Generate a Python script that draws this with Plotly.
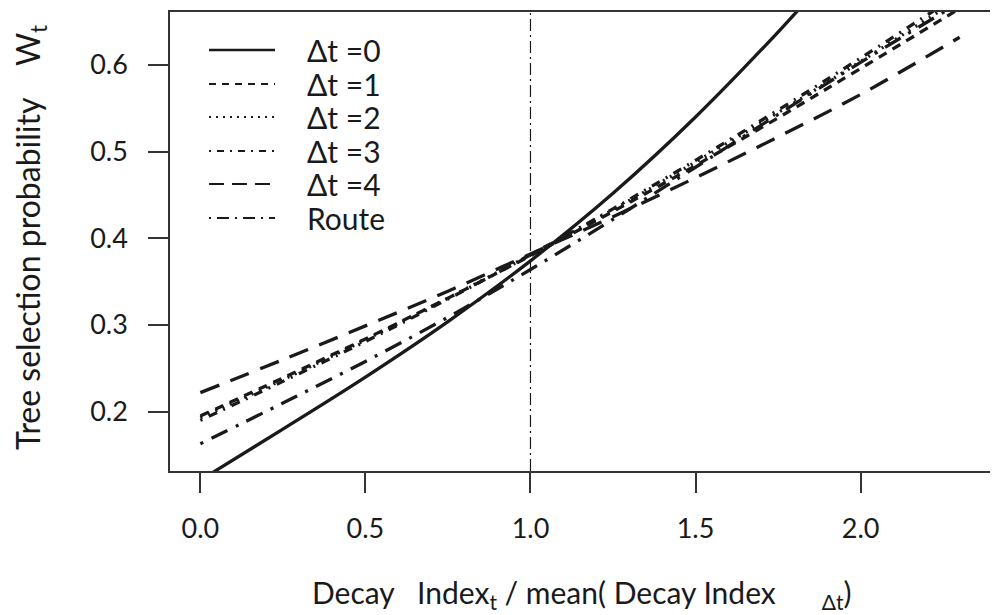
import plotly.graph_objects as go

# ---- data ----
x_solid = [0.0, 0.25, 0.5, 0.75, 1.0, 1.25, 1.5, 1.75, 1.85]
dt0 = [0.121, 0.180, 0.240, 0.304, 0.374, 0.452, 0.540, 0.638, 0.680]

x_vals = [0.0, 0.25, 0.5, 0.75, 1.0, 1.25, 1.5, 1.75, 2.0, 2.3]
dt1 = [0.195, 0.239, 0.284, 0.331, 0.380, 0.431, 0.484, 0.539, 0.596, 0.665]
dt2 = [0.193, 0.237, 0.283, 0.331, 0.381, 0.433, 0.488, 0.545, 0.604, 0.677]
dt3 = [0.190, 0.235, 0.281, 0.330, 0.381, 0.434, 0.490, 0.548, 0.608, 0.682]
dt4 = [0.222, 0.260, 0.299, 0.339, 0.382, 0.425, 0.470, 0.517, 0.566, 0.632]
route = [0.163, 0.210, 0.258, 0.309, 0.364, 0.422, 0.482, 0.543, 0.603, 0.672]

names = ["\u0394t =0", "\u0394t =1", "\u0394t =2", "\u0394t =3", "\u0394t =4", "Route"]
x_tick_vals = [0.0, 0.5, 1.0, 1.5, 2.0]
y_tick_vals = [0.2, 0.3, 0.4, 0.5, 0.6]
vline_x = 1.0
x_range = [-0.092, 2.392]
y_range = [0.1316, 0.6611]

FONT = "Lato"
INK = "#1a1a1a"
# the page body has an 8px margin, so the figure is drawn from (8, 8)
OFF = 8
W, H = 998 - OFF, 615 - OFF
ML, MR, MT, MB = 170 - OFF, 8, 12 - OFF, 615 - 471
PW, PH = W - ML - MR, H - MT - MB

fig = go.Figure()

dashes = ["solid", "9px,7px", "2px,6px", "2px,7px,9px,7px", "20px,12px", "3px,9px,18px,9px"]
legend_dashes = ["solid", "7px,6px", "2px,5px", "2px,6px,7px,6px", "15px,8px", "2px,6px,12px,6px"]
series = [(x_solid, dt0), (x_vals, dt1), (x_vals, dt2), (x_vals, dt3), (x_vals, dt4), (x_vals, route)]

for (xs, ys), dash, nm in zip(series, dashes, names):
    fig.add_trace(go.Scatter(
        x=xs, y=ys, mode="lines", name=nm, showlegend=False,
        line=dict(color=INK, width=3.3, dash=dash, shape="spline"),
    ))

fig.add_trace(go.Scatter(
    x=[vline_x, vline_x], y=y_range, mode="lines", showlegend=False,
    line=dict(color=INK, width=1.2, dash="12px,4px,2px,4px"),
))


# page-pixel -> paper coordinates
def px_x(p):
    return (p - OFF - ML) / PW


def px_y(p):
    return (H - MB - (p - OFF)) / PH


# manual legend (R-style)
legend_rows = [50, 84, 117, 151, 184, 218]
for row_y, nm, dsh in zip(legend_rows, names, legend_dashes):
    fig.add_shape(type="line", xref="paper", yref="paper",
                  x0=px_x(209), x1=px_x(275), y0=px_y(row_y), y1=px_y(row_y),
                  line=dict(color=INK, width=2.6 if dsh == "solid" else 2.2, dash=dsh))
    fig.add_annotation(text=nm, xref="paper", yref="paper",
                       x=px_x(305), y=px_y(row_y), xanchor="left", yanchor="middle",
                       showarrow=False, font=dict(size=30, family=FONT, color=INK))

# axis titles
fig.add_annotation(
    text="Decay\u00a0\u00a0\u00a0Index<sub>t</sub> / mean( Decay Index\u00a0\u00a0\u00a0\u00a0\u00a0\u00a0<sub>\u0394t</sub>)",
    xref="paper", yref="paper", x=px_x(582), y=px_y(594), xanchor="center", yanchor="middle",
    showarrow=False, font=dict(size=30, family=FONT, color=INK))
fig.add_annotation(
    text="Tree selection probability\u00a0\u00a0\u00a0\u00a0W<sub>t</sub>",
    xref="paper", yref="paper", x=px_x(30), y=px_y(238), xanchor="center", yanchor="middle",
    textangle=-90, showarrow=False, font=dict(size=32, family=FONT, color=INK))

axis_common = dict(
    tickformat=".1f", ticks="outside", ticklen=20, tickwidth=1.5, tickcolor="#333",
    showline=True, linewidth=1.5, linecolor="#333", mirror=True,
    showgrid=False, zeroline=False, automargin=False,
    tickfont=dict(size=27, family=FONT, color=INK),
)

fig.update_layout(
    width=W, height=H,
    margin=dict(l=ML, r=MR, t=MT, b=MB, autoexpand=False),
    paper_bgcolor="white", plot_bgcolor="white",
    font=dict(family=FONT, size=24, color=INK),
    showlegend=False,
    xaxis=dict(range=x_range, tickvals=x_tick_vals, ticklabelstandoff=13, **axis_common),
    yaxis=dict(range=y_range, tickvals=y_tick_vals, ticklabelstandoff=15, **axis_common),
)

fig.write_html("out.html")
